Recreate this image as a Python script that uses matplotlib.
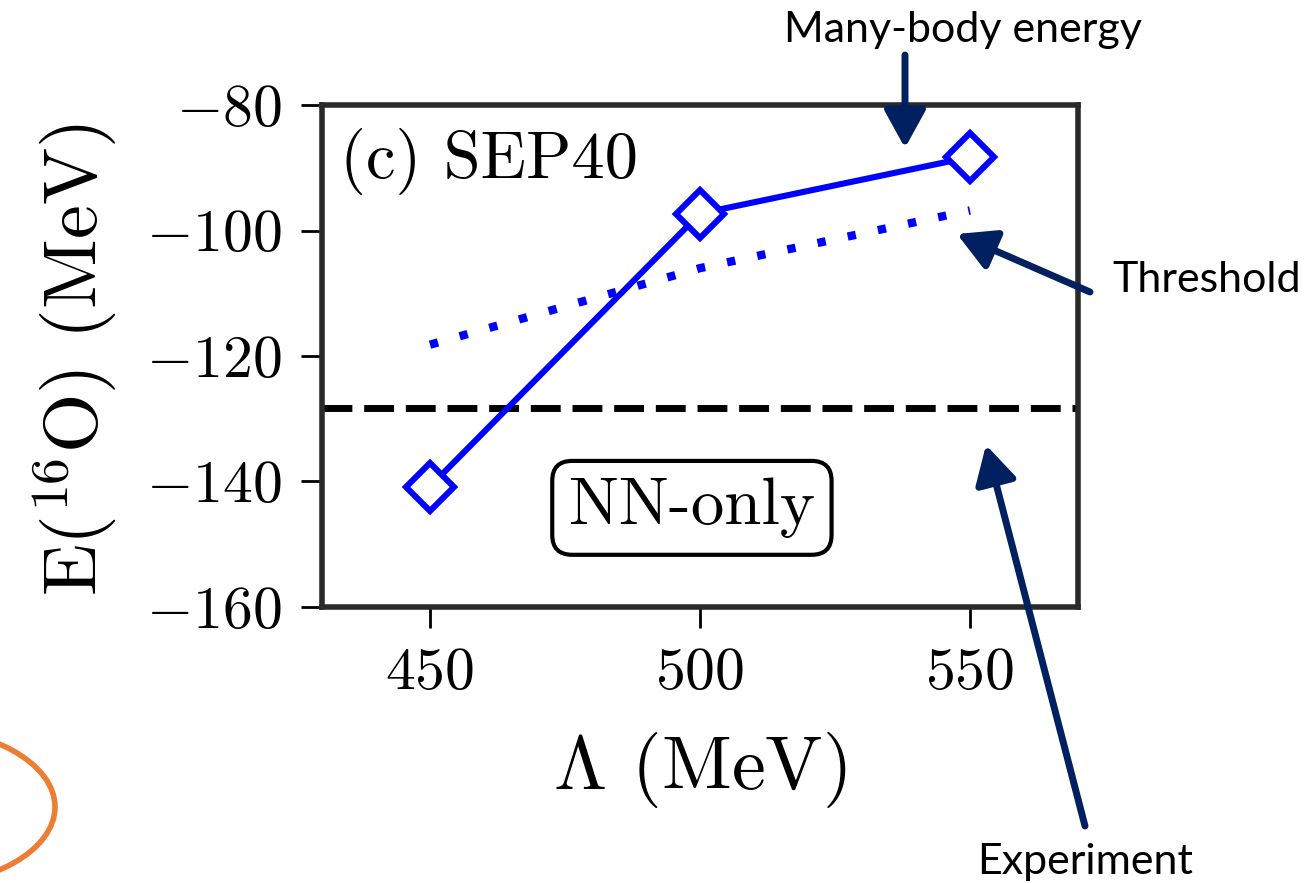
import matplotlib
matplotlib.use("Agg")
import matplotlib.pyplot as plt
from matplotlib.patches import Ellipse

plt.rcParams['font.family'] = 'serif'
plt.rcParams['font.serif'] = ['cmr10']
plt.rcParams['mathtext.fontset'] = 'cm'
plt.rcParams['axes.formatter.use_mathtext'] = True

# data
cutoff = [450, 500, 550]
many_body = [-140.8, -97.3, -88.3]
threshold = [-118.2, -106.0, -96.8]
experiment = -128.3

yticks = [-160, -140, -120, -100, -80]
xticks = [450, 500, 550]

navy = '#002060'
blue = '#0000ff'

fig = plt.figure(figsize=(13.15, 8.83), dpi=100)
ax = fig.add_axes([322 / 1315, 1 - 607 / 883, 756 / 1315, 502 / 883])

ax.plot(cutoff, many_body, color=blue, lw=4.4, marker='D', ms=24,
        mfc='white', mec=blue, mew=4.4, zorder=3)
ax.plot(cutoff, threshold, color=blue, lw=6, linestyle=(0, (1, 2.7)),
        dash_capstyle='butt', zorder=2)
ax.axhline(experiment, color='black', lw=5, dashes=(4.3, 1.7))

ax.set_xlim(430, 570)
ax.set_ylim(-160, -80)
ax.set_xticks(xticks)
ax.set_yticks(yticks)
ax.tick_params(direction='out', length=15, width=2, labelsize=43, pad=14)
for s in ax.spines.values():
    s.set_linewidth(4)
    s.set_color('#2a2a2a')

ax.set_xlabel(r'$\Lambda$ (MeV)', fontsize=55)
ax.xaxis.set_label_coords(0.5, -0.245)
# y label placed by hand so it sits where the reference has it
fig.text(75 / 1315, 1 - 360 / 883, r'E($^{16}$O) (MeV)', fontsize=55,
         rotation=90, ha='center', va='center')

ax.text(0.024, 0.955, '(c) SEP40', transform=ax.transAxes, fontsize=48,
        ha='left', va='top')
ax.text(498.5, -144.2, 'NN-only', fontsize=48, ha='center', va='center',
        bbox=dict(boxstyle='round,pad=0.25,rounding_size=0.3', fc='white',
                  ec='black', lw=3))

# slide annotations
sans = 'Lato'
fig.text(963 / 1315, 1 - 30 / 883, 'Many-body energy', family=sans,
         fontsize=31, ha='center', va='center')
fig.text(1112 / 1315, 1 - 280 / 883, 'Threshold', family=sans,
         fontsize=31, ha='left', va='center')
fig.text(1085 / 1315, 1 - 862 / 883, 'Experiment', family=sans,
         fontsize=31, ha='center', va='center')

arrow = dict(arrowstyle='-|>,head_length=1.0,head_width=0.55', color=navy,
             lw=5, mutation_scale=23, shrinkA=0, shrinkB=0)
for tail, tip in [((905, 55), (905, 148)),
                  ((1090, 292), (957, 234)),
                  ((1085, 826), (986, 445))]:
    ax.annotate('', xy=(tip[0], 883 - tip[1]), xycoords='figure pixels',
                xytext=(tail[0], 883 - tail[1]), textcoords='figure pixels',
                arrowprops=arrow, annotation_clip=False)

fig.add_artist(Ellipse((-0.9, 0.76), 2.9, 1.6, transform=fig.dpi_scale_trans,
                       fill=False, ec='#ed7d31', lw=4))

fig.savefig('out.png', dpi=100)
